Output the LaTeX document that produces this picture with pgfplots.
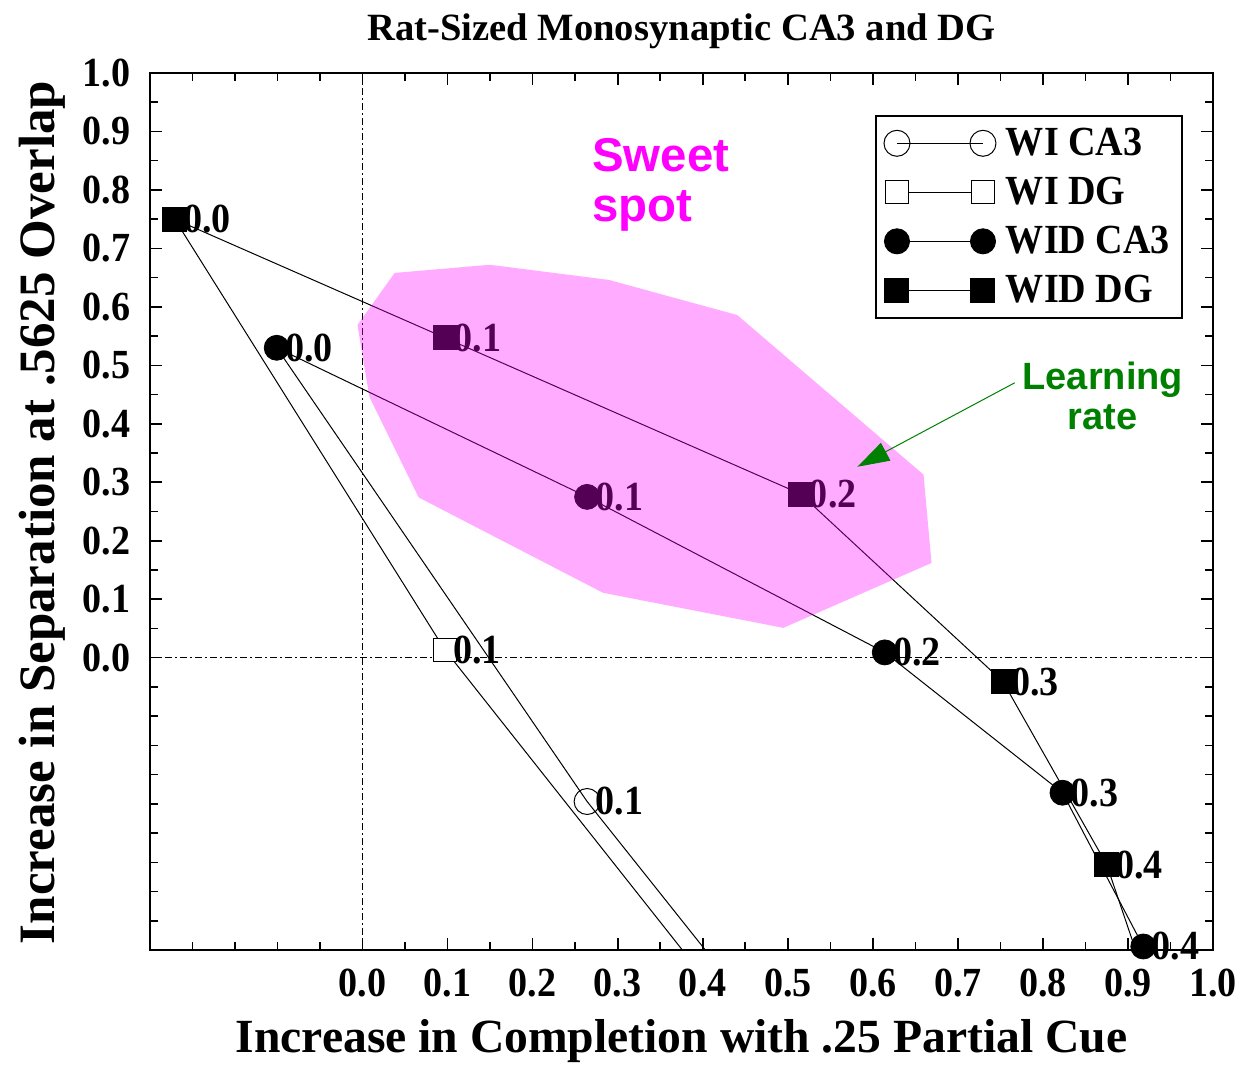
\documentclass[border=0pt]{standalone}
\usepackage{fontspec}
\setmainfont{Liberation Serif}
\newfontfamily\condserif{Liberation Serif}[FakeStretch=0.92]
\newfontfamily\sansfont{Liberation Sans}
\usepackage{pgfplots}
\pgfplotsset{compat=1.18}
\usetikzlibrary{arrows.meta}
\definecolor{lrgreen}{RGB}{0,128,0}
\definecolor{mag}{RGB}{255,0,255}
\newcommand{\fs}[1]{\fontsize{#1}{#1}\selectfont}

\begin{document}
\begin{tikzpicture}
\path[use as bounding box] (-75pt,-57pt) rectangle (545pt,475pt);
\begin{axis}[
  at={(0,0)}, anchor=south west,
  scale only axis, width=531.5pt, height=438.5pt,
  xmin=-0.25, xmax=1.0, ymin=-0.5, ymax=1.0,
  clip=false, clip marker paths=true,
  axis line style={line width=1pt},
  tick style={black, line width=0.8pt},
  major tick length=6pt, minor tick length=4pt,
  tick align=inside,
  xtick={0,0.1,0.2,0.3,0.4,0.5,0.6,0.7,0.8,0.9,1.0},
  xticklabels={0.0,0.1,0.2,0.3,0.4,0.5,0.6,0.7,0.8,0.9,1.0},
  minor xtick={-0.2,-0.15,-0.1,-0.05,0.05,0.15,0.25,0.35,0.45,0.55,0.65,0.75,0.85,0.95},
  ytick={0,0.1,0.2,0.3,0.4,0.5,0.6,0.7,0.8,0.9,1.0},
  yticklabels={0.0,0.1,0.2,0.3,0.4,0.5,0.6,0.7,0.8,0.9,1.0},
  minor ytick={-0.45,-0.4,-0.35,-0.3,-0.25,-0.2,-0.15,-0.1,-0.05,0.05,0.15,0.25,0.35,0.45,0.55,0.65,0.75,0.85,0.95},
  xticklabel style={font=\condserif\bfseries\fs{20.7}, yshift=-5.8pt},
  yticklabel style={font=\condserif\bfseries\fs{20.7}, xshift=-6.2pt},
  every axis title shift=0pt,
  title={Rat-Sized Monosynaptic CA3 and DG},
  title style={at={(axis description cs:0.5,1.0376)}, anchor=base, font=\bfseries\fs{19.3}, inner sep=0pt},
  xlabel={Increase in Completion with .25 Partial Cue},
  xlabel style={at={(axis description cs:0.5,-0.1163)}, anchor=base, font=\bfseries\fs{23.8}, inner sep=0pt},
  ylabel={Increase in Separation at .5625 Overlap},
  ylabel style={at={(axis description cs:-0.0895,0.4989)}, anchor=base, font=\bfseries\fs{25.5}, inner sep=0pt},
  legend style={at={(axis description cs:0.682,0.952)}, anchor=north west, draw=black, line width=1pt,
    font=\condserif\bfseries\fs{20.7}, inner xsep=4pt, inner ysep=4pt, row sep=5.3pt, cells={anchor=west}},
  legend image code/.code={\draw[#1, line width=0.5pt] plot coordinates {(0pt,0pt) (43pt,0pt)}; \path (52pt,0pt);},
  every node near coord/.style={anchor=west, xshift=4pt, inner sep=0pt, font=\condserif\bfseries\fs{20.7}, text=black},
]
% reference lines at zero
\addplot[black, line width=0.6pt, dash pattern=on 3.5pt off 1.5pt on 1pt off 1.5pt, forget plot] coordinates {(0,-0.5) (0,1)};
\addplot[black, line width=0.6pt, dash pattern=on 3.5pt off 1.5pt on 1pt off 1.5pt, forget plot] coordinates {(-0.25,0) (1,0)};

% connecting lines
\addplot[black, line width=0.5pt, forget plot] coordinates {(-0.101,0.530) (0.264,-0.246) (0.403,-0.5)};
\addplot[black, line width=0.5pt, forget plot] coordinates {(-0.221,0.750) (0.0966,0.0137) (0.376,-0.5)};
\addplot[black, line width=0.5pt, forget plot] coordinates {(-0.101,0.530) (0.264,0.275) (0.614,0.009) (0.823,-0.231) (0.918,-0.494)};
\addplot[black, line width=0.5pt, forget plot] coordinates {(-0.221,0.750) (0.097,0.547) (0.515,0.280) (0.753,-0.041) (0.875,-0.354) (0.909,-0.5)};

% WI CA3 marker
\addplot[only marks, mark=o, mark size=6.5pt, mark options={fill=white, line width=0.5pt}, black,
  nodes near coords, point meta=explicit symbolic, forget plot] table[meta=label] {
x y label
0.264 -0.246 0.1
};
% WI DG marker
\addplot[only marks, mark=square*, mark size=5.75pt, mark options={fill=white, draw=black, line width=0.5pt}, black,
  nodes near coords, point meta=explicit symbolic, forget plot] table[meta=label] {
x y label
0.0966 0.0137 0.1
};
% WID CA3
\addplot[only marks, mark=*, mark size=6.25pt, black,
  nodes near coords, point meta=explicit symbolic, forget plot] table[meta=label] {
x y label
-0.101 0.530 0.0
0.264 0.275 0.1
0.614 0.009 0.2
0.823 -0.231 0.3
0.918 -0.494 0.4
};
% WID DG
\addplot[only marks, mark=square*, mark size=6pt, black,
  nodes near coords, point meta=explicit symbolic, forget plot] table[meta=label] {
x y label
-0.221 0.750 0.0
0.097 0.547 0.1
0.515 0.280 0.2
0.753 -0.041 0.3
0.875 -0.354 0.4
};

% sweet spot region
\addplot[draw=none, fill=mag, fill opacity=0.33, forget plot] coordinates {
(0.0377,0.658) (0.1496,0.672) (0.2898,0.646) (0.4405,0.586) (0.6596,0.313) (0.669,0.162)
(0.4947,0.051) (0.2827,0.111) (0.066,0.274) (0.008,0.446) (-0.006,0.569)} -- cycle;

% legend
\addlegendimage{black, mark=o, mark size=6.5pt, mark options={fill=white, line width=0.5pt}}
\addlegendentry{WI CA3}
\addlegendimage{black, mark=square*, mark size=5.75pt, mark options={fill=white, draw=black, line width=0.5pt}}
\addlegendentry{WI DG}
\addlegendimage{black, mark=*, mark size=6.25pt}
\addlegendentry{WID CA3}
\addlegendimage{black, mark=square*, mark size=6pt}
\addlegendentry{WID DG}

% annotations
\node[anchor=base west, inner sep=0pt, text=mag, font=\sansfont\bfseries\fs{23.7}] at (axis cs:0.2697,0.8308) {Sweet};
\node[anchor=base west, inner sep=0pt, text=mag, font=\sansfont\bfseries\fs{23.7}] at (axis cs:0.2697,0.7453) {spot};
\node[anchor=base, inner sep=0pt, text=lrgreen, font=\sansfont\bfseries\fs{19}] at (axis cs:0.8704,0.4581) {Learning};
\node[anchor=base, inner sep=0pt, text=lrgreen, font=\sansfont\bfseries\fs{19}] at (axis cs:0.8704,0.3897) {rate};
\draw[lrgreen, line width=0.5pt, -{Triangle[length=16pt,width=10pt]}] (axis cs:0.7668,0.4701) -- (axis cs:0.5819,0.3265);
\end{axis}
\end{tikzpicture}
\end{document}
